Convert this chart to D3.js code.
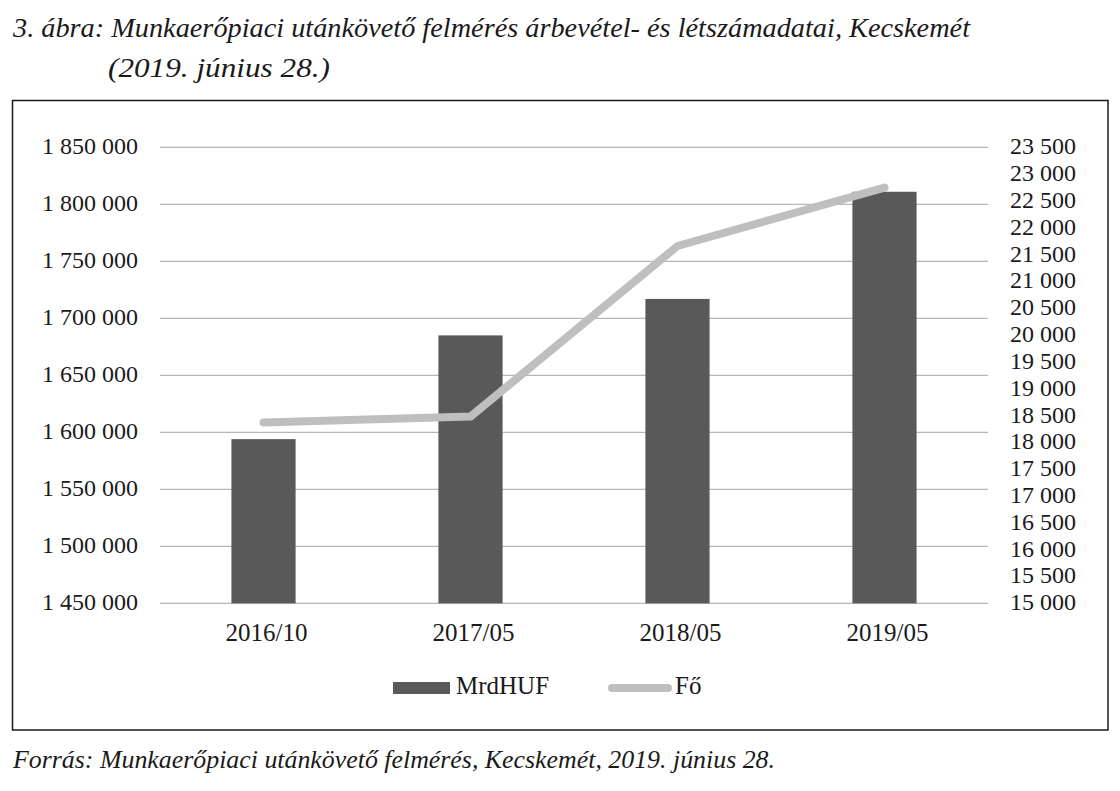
<!DOCTYPE html>
<html>
<head>
<meta charset="utf-8">
<script src="https://cdn.jsdelivr.net/npm/d3@7"></script>
<style>
  html, body { margin: 0; padding: 0; background: #fff; }
  svg { display: block; }
  text { font-family: "Liberation Serif", "DejaVu Serif", serif; fill: #1a1a1a; }
</style>
</head>
<body>
<svg id="chart" width="1120" height="791"></svg>
<script>
// ---- data ----
const categories = ["2016/10", "2017/05", "2018/05", "2019/05"];
const revenue = [1594000, 1685000, 1717000, 1811000];   // MrdHUF (bars, left axis)
const headcount = [18370, 18480, 21660, 22750];         // Fő (line, right axis)
const leftTicks = [1450000, 1500000, 1550000, 1600000, 1650000, 1700000, 1750000, 1800000, 1850000];
const rightTicks = [15000, 15500, 16000, 16500, 17000, 17500, 18000, 18500, 19000, 19500,
                    20000, 20500, 21000, 21500, 22000, 22500, 23000, 23500];
const seriesNames = ["MrdHUF", "Fő"];
const titleLines = ["3. ábra: Munkaerőpiaci utánkövető felmérés árbevétel- és létszámadatai, Kecskemét",
                    "(2019. június 28.)"];
const sourceText = "Forrás: Munkaerőpiaci utánkövető felmérés, Kecskemét, 2019. június 28.";

// ---- layout ----
const svg = d3.select("#chart");
const plot = { left: 160, right: 988, top: 147.3, bottom: 603.3 };
const barColor = "#595959", lineColor = "#bfbfbf", gridColor = "#a6a6a6";

const fmt = d3.formatLocale({ decimal: ",", thousands: " ", grouping: [3], currency: ["", ""] }).format(",d");

const x = d3.scaleBand().domain(categories).range([plot.left, plot.right]).paddingInner(0.69).paddingOuter(0.345);
const yL = d3.scaleLinear().domain([1450000, 1850000]).range([plot.bottom, plot.top]);
const yR = d3.scaleLinear().domain([15000, 23500]).range([plot.bottom, plot.top]);

// title
svg.append("text").attr("x", 13).attr("y", 37).attr("font-size", 27).attr("font-style", "italic")
  .attr("textLength", 957).attr("lengthAdjust", "spacingAndGlyphs").text(titleLines[0]);
svg.append("text").attr("x", 108).attr("y", 77).attr("font-size", 27).attr("font-style", "italic")
  .attr("textLength", 222).attr("lengthAdjust", "spacingAndGlyphs").text(titleLines[1]);

// frame
svg.append("rect").attr("x", 12.5).attr("y", 100.5).attr("width", 1095.5).attr("height", 629.5)
  .attr("fill", "none").attr("stroke", "#1a1a1a").attr("stroke-width", 1.5);

// gridlines
svg.append("g").selectAll("line").data(leftTicks).join("line")
  .attr("x1", plot.left).attr("x2", plot.right)
  .attr("y1", d => yL(d)).attr("y2", d => yL(d))
  .attr("stroke", gridColor).attr("stroke-width", 1);

// bars
svg.append("g").selectAll("rect").data(categories).join("rect")
  .attr("x", d => x(d)).attr("width", x.bandwidth())
  .attr("y", (d, i) => yL(revenue[i])).attr("height", (d, i) => plot.bottom - yL(revenue[i]))
  .attr("fill", barColor);

// line
const line = d3.line().x((d, i) => x(categories[i]) + x.bandwidth() / 2).y(d => yR(d));
svg.append("path").datum(headcount).attr("d", line)
  .attr("fill", "none").attr("stroke", lineColor).attr("stroke-width", 8)
  .attr("stroke-linecap", "round").attr("stroke-linejoin", "round");

// axes
const styleAxis = size => g => {
  g.select(".domain").remove();
  g.selectAll(".tick line").remove();
  g.selectAll("text").attr("font-family", "Liberation Serif, serif").attr("font-size", size).attr("fill", "#1a1a1a");
};
svg.append("g").attr("transform", `translate(${plot.left},0)`)
  .call(d3.axisLeft(yL).tickValues(leftTicks).tickFormat(fmt).tickSize(0).tickPadding(22))
  .call(styleAxis(24))
  .call(g => g.selectAll("text").attr("dy", "0.24em"));
svg.append("g").attr("transform", `translate(${plot.right},0)`)
  .call(d3.axisRight(yR).tickValues(rightTicks).tickFormat(fmt).tickSize(0).tickPadding(22))
  .call(styleAxis(24))
  .call(g => g.selectAll("text").attr("dy", "0.27em"));
svg.append("g").attr("transform", `translate(3,${plot.bottom})`)
  .call(d3.axisBottom(x).tickSize(0).tickPadding(20))
  .call(styleAxis(25));

// legend
const leg = svg.append("g");
leg.append("rect").attr("x", 393).attr("y", 682).attr("width", 57).attr("height", 12).attr("fill", barColor);
leg.append("text").attr("x", 456).attr("y", 694).attr("font-size", 25).text(seriesNames[0]);
leg.append("line").attr("x1", 612).attr("x2", 668).attr("y1", 688).attr("y2", 688)
  .attr("stroke", lineColor).attr("stroke-width", 8).attr("stroke-linecap", "round");
leg.append("text").attr("x", 675).attr("y", 694).attr("font-size", 25).text(seriesNames[1]);

// source
svg.append("text").attr("x", 13).attr("y", 768).attr("font-size", 25).attr("font-style", "italic")
  .attr("textLength", 762).attr("lengthAdjust", "spacingAndGlyphs").text(sourceText);
</script>
</body>
</html>
